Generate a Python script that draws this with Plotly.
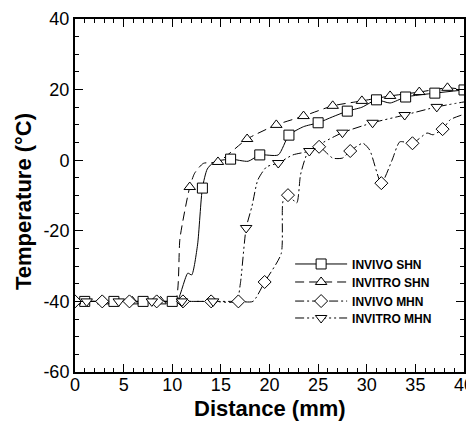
import plotly.graph_objects as go

# ---- data ----
names = ["INVIVO SHN", "INVITRO SHN", "INVIVO MHN", "INVITRO MHN"]

# INVIVO SHN
ivs_line_x = [0, 1, 4, 7, 10, 10.5, 11.6, 12.0, 12.6, 13.1, 13.6, 14.3, 16, 17.8, 19, 20.9, 22, 23.5, 25, 26.5, 28, 29.5, 31, 32.4, 34, 37, 40]
ivs_line_y = [-40, -40, -40, -40, -40, -40, -32, -32.5, -24, -7.9, -2.5, -0.5, 0.3, -0.3, 1.5, 1.5, 7.1, 9.5, 10.6, 12.3, 13.9, 15.0, 17.1, 16.2, 17.9, 19.0, 19.9]
ivs_mk_x = [1, 4, 7, 10, 13.1, 16, 19, 22, 25, 28, 31, 34, 37, 40]
ivs_mk_y = [-40, -40, -40, -40, -7.9, 0.3, 1.5, 7.1, 10.6, 13.9, 17.1, 17.9, 19.0, 19.9]

# INVITRO SHN
its_line_x = [0, 2.9, 5.9, 8.8, 10.3, 10.8, 11.8, 12.3, 13.2, 14.7, 17.7, 20.7, 23.5, 26.5, 29.5, 32.4, 35.4, 38.3, 40]
its_line_y = [-40, -40, -40, -40, -40, -22, -7.6, -3.7, -0.9, -0.5, 6.0, 10.0, 12.5, 15.4, 16.8, 18.2, 19.3, 20.5, 20.0]
its_mk_x = [0, 2.9, 5.9, 8.8, 11.8, 14.7, 17.7, 20.7, 23.5, 26.5, 29.5, 32.4, 35.4, 38.3]
its_mk_y = [-40, -40, -40, -40, -7.6, -0.5, 6.0, 10.0, 12.5, 15.4, 16.8, 18.2, 19.3, 20.5]

# INVIVO MHN
ivm_line_x = [0, 2.8, 5.6, 8.4, 11.1, 14.0, 16.8, 18.3, 19.5, 21.2, 21.4, 21.9, 22.8, 23.2, 24.0, 25.1, 26.5, 27.5, 28.3, 29.6, 30.3, 31.5, 32.6, 33.4, 34.7, 36.2, 36.8, 37.8, 38.6, 40]
ivm_line_y = [-40, -40, -40, -40, -40, -40, -40, -40, -34.5, -26.5, -11.5, -9.9, -12.1, -4, 2.5, 3.8, 0.6, 0.6, 2.6, 4.8, 2.9, -6.5, 0.0, 5.2, 4.8, 7.7, 7.2, 8.8, 11.5, 13.0]
ivm_mk_x = [0, 2.8, 5.6, 8.4, 11.1, 14.0, 16.8, 19.5, 21.9, 25.1, 28.3, 31.5, 34.7, 37.8]
ivm_mk_y = [-40, -40, -40, -40, -40, -40, -40, -34.5, -9.9, 3.8, 2.6, -6.5, 4.8, 8.8]

# INVITRO MHN
itm_line_x = [0, 1.2, 4.5, 7.9, 11.0, 14.2, 16.6, 17.0, 17.6, 18.2, 18.8, 19.7, 20.9, 22.4, 24.1, 25.5, 27.5, 30.6, 33.9, 37.2, 40]
itm_line_y = [-40, -40, -40, -40, -40, -40, -40, -35, -19.2, -13, -5.6, -1.9, -0.8, 1.5, 2.6, 5.0, 7.8, 10.6, 12.8, 15.1, 16.5]
itm_mk_x = [1.2, 4.5, 7.9, 11.0, 14.2, 17.6, 20.9, 24.1, 27.5, 30.6, 33.9, 37.2]
itm_mk_y = [-40, -40, -40, -40, -40, -19.2, -0.8, 2.6, 7.8, 10.6, 12.8, 15.1]

x_ticks = [0, 5, 10, 15, 20, 25, 30, 35, 40]
y_ticks = [-60, -40, -20, 0, 20, 40]

x_title = "Distance (mm)"
y_title = "Temperature (°C)"

series = [
    (names[0], ivs_line_x, ivs_line_y, ivs_mk_x, ivs_mk_y, "square", "solid"),
    (names[1], its_line_x, its_line_y, its_mk_x, its_mk_y, "triangle-up", "9px,5px"),
    (names[2], ivm_line_x, ivm_line_y, ivm_mk_x, ivm_mk_y, "diamond", "9px,3px,2px,3px"),
    (names[3], itm_line_x, itm_line_y, itm_mk_x, itm_mk_y, "triangle-down", "9px,3px,2px,3px,2px,3px"),
]

legend_ids = ["legend", "legend2", "legend3", "legend4"]

fig = go.Figure()
for name, lx, ly, mx, my, sym, dash in series:
    fig.add_trace(go.Scatter(x=lx, y=ly, mode="lines", showlegend=False,
                             line=dict(color="black", width=1, dash=dash,
                                       shape="spline", smoothing=0.6),
                             hoverinfo="skip"))
for name, lx, ly, mx, my, sym, dash in series:
    fig.add_trace(go.Scatter(x=mx, y=my, mode="markers", showlegend=False,
                             marker=dict(symbol=sym, size=10, color="white",
                                         line=dict(color="black", width=1))))
for (name, lx, ly, mx, my, sym, dash), lid in zip(series, legend_ids):
    fig.add_trace(go.Scatter(x=[None], y=[None], mode="lines+markers", name="<b>" + name + "</b>",
                             legend=lid,
                             line=dict(color="black", width=1, dash=dash),
                             marker=dict(symbol=sym, size=10, color="white",
                                         line=dict(color="black", width=1))))

font_family = "Liberation Sans, Arial, sans-serif"
axis_common = dict(showline=True, linewidth=2, linecolor="black", mirror="allticks",
                   ticks="inside", ticklen=8, tickwidth=1.2, tickcolor="black",
                   showgrid=False, zeroline=False, automargin=False,
                   ticklabeloverflow="allow",
                   tickfont=dict(family=font_family, size=18, color="black"))

fig.update_xaxes(range=[0, 40], tickvals=x_ticks, ticktext=[str(v) for v in x_ticks],
                 minor=dict(ticks="inside", ticklen=4, dtick=1, tickcolor="black", tickwidth=1),
                 ticklabelstandoff=-5,
                 **axis_common)
fig.update_yaxes(range=[-60, 40], tickvals=y_ticks, ticktext=[str(v) for v in y_ticks],
                 minor=dict(ticks="inside", ticklen=4, dtick=5, tickcolor="black", tickwidth=1),
                 **axis_common)

fig.add_annotation(text="<b>" + x_title + "</b>", xref="paper", yref="paper",
                   x=0.5, y=-0.102, xanchor="center", yanchor="middle", showarrow=False,
                   font=dict(family=font_family, size=22, color="black"))
fig.add_annotation(text="<b>" + y_title + "</b>", xref="paper", yref="paper",
                   x=-0.134, y=0.484, xanchor="center", yanchor="middle", showarrow=False,
                   textangle=-90,
                   font=dict(family=font_family, size=22, color="black"))

legend_y = [0.306, 0.255, 0.201, 0.153]
leg_common = dict(x=0.553, xanchor="left", yanchor="middle", bgcolor="rgba(0,0,0,0)",
                  itemwidth=52, font=dict(family=font_family, size=12, color="black"))

# page has an 8px body margin: figure is sized/margined so the plot lands where the reference has it
fig.update_layout(
    width=466, height=415,
    margin=dict(l=67, r=10, t=11, b=51),
    plot_bgcolor="white", paper_bgcolor="white",
    font=dict(family=font_family),
    legend=dict(y=legend_y[0], **leg_common),
    legend2=dict(y=legend_y[1], **leg_common),
    legend3=dict(y=legend_y[2], **leg_common),
    legend4=dict(y=legend_y[3], **leg_common),
)

fig.write_html("out.html")
